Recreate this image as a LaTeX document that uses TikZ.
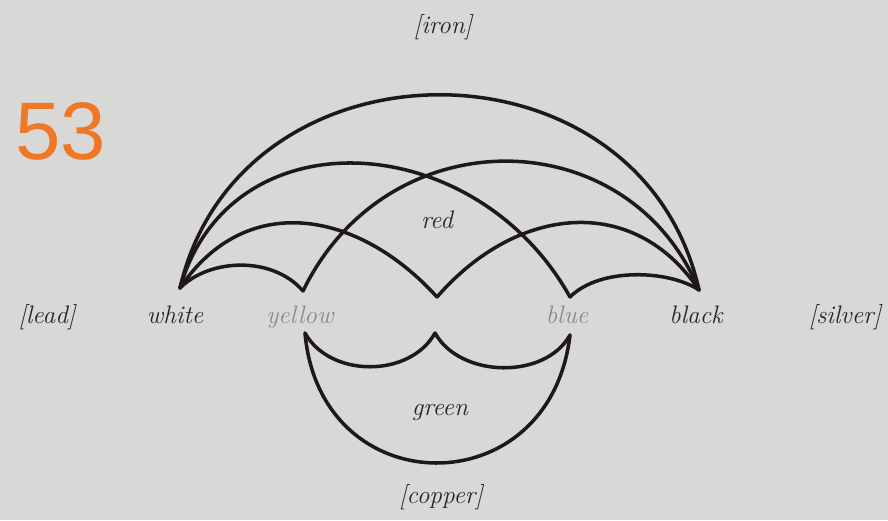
\documentclass[tikz,border=0pt]{standalone}
\usepackage{fontspec}
\usepackage{tikz}
\usetikzlibrary{positioning}
\newfontfamily\numfont{Liberation Sans}
\definecolor{PageGrey}{RGB}{216,216,214}
\definecolor{InkDark}{RGB}{30,24,24}
\definecolor{TextDark}{RGB}{40,36,36}
\definecolor{TextFaint}{RGB}{138,138,138}
\definecolor{PlateOrange}{RGB}{240,120,36}

\begin{document}
\begin{tikzpicture}[
  x=0.025cm, y=-0.025cm,
  stroke/.style={draw=InkDark, line width=2.5pt, line join=miter, line cap=round},
  lbl/.style={font=\fontsize{18}{20}\selectfont\itshape, text=TextDark, inner sep=0pt, anchor=base},
  faint/.style={lbl, text=TextFaint}
]
\fill[PageGrey] (0,0) rectangle (888,520);
\useasboundingbox (0,0) rectangle (888,520);

% cusp points
\coordinate (white) at (180,288);
\coordinate (black) at (699,290);
\coordinate (yelup) at (303,291);
\coordinate (redcusp) at (437,297);
\coordinate (bluup) at (570,297);
\coordinate (yeldn) at (305,333);
\coordinate (greencusp) at (435,333);
\coordinate (bludn) at (570,335);

% upper arcs
\draw[stroke] (white) .. controls +(60,-258) and +(-58,-260) .. (black);
\draw[stroke] (white) .. controls +(50,-175) and +(-95,-170) .. (bluup);
\draw[stroke] (yelup) .. controls +(85,-175) and +(-70,-170) .. (black);
\draw[stroke] (white) .. controls +(65,-97) and +(-80,-88) .. (redcusp);
\draw[stroke] (redcusp) .. controls +(80,-92) and +(-65,-97) .. (black);
\draw[stroke] (white) .. controls +(30,-30) and +(-30,-35) .. (yelup);
\draw[stroke] (bluup) .. controls +(30,-30) and +(-30,-20) .. (black);

% lower shape
\draw[stroke] (yeldn) .. controls +(25,45) and +(-25,45) .. (greencusp);
\draw[stroke] (greencusp) .. controls +(25,45) and +(-25,45) .. (bludn);
\draw[stroke] (yeldn) .. controls +(15,172) and +(-20,172) .. (bludn);

% labels
\node[font=\numfont\fontsize{58}{58}\selectfont, text=PlateOrange, inner sep=0pt] (plate) at (61,131) {53};
\node[lbl] (iron) at (443,33) {[iron]};
\node[lbl] (lead) at (47,323) {[lead]};
\node[lbl] (whitelbl) at (175,323) {white};
\node[faint] (yellowlbl) at (300,323) {yellow};
\node[faint] (bluelbl) at (567,323) {blue};
\node[lbl] (blacklbl) at (696,323) {black};
\node[lbl] (silver) at (845,323) {[silver]};
\node[lbl] (redlbl) at (437,228) {red};
\node[lbl] (greenlbl) at (440,415) {green};
\node[lbl] (copper) at (441,503) {[copper]};
\end{tikzpicture}
\end{document}
